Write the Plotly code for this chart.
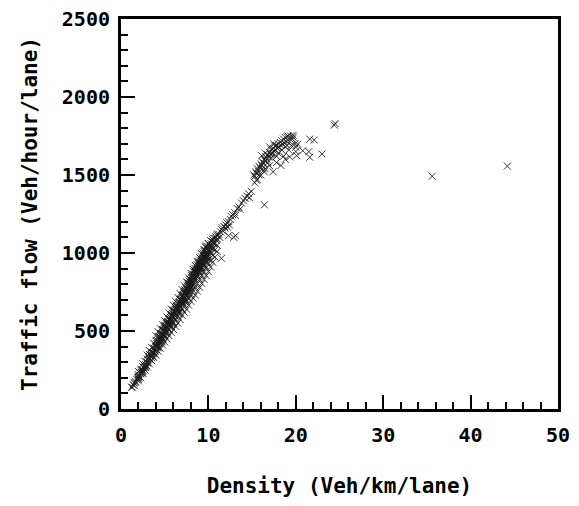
import plotly.graph_objects as go

# Density (Veh/km/lane) and Traffic flow (Veh/hour/lane)
density_low = [1.2, 1.3, 1.4, 1.5, 1.6, 1.7, 1.8, 1.9, 2.0, 2.1, 2.2, 2.3, 2.4, 2.5, 2.6, 2.7, 2.8, 2.9, 3.0, 1.5, 2.0, 2.4, 2.8,
               3.1, 3.2, 3.3, 3.4, 3.5, 3.5, 3.6, 3.7, 3.8, 3.9, 4.0, 4.0, 4.1, 4.2, 4.2, 4.3, 4.4, 4.4, 4.5, 4.6, 4.6, 4.7, 4.8, 4.8, 4.9, 5.0, 5.0,
               4.3, 4.7, 3.8, 4.1, 4.5, 4.9, 5.0, 3.6, 4.6]
flow_low = [139, 140, 155, 150, 170, 175, 190, 200, 210, 205, 230, 235, 250, 240, 265, 270, 285, 280, 300, 165, 190, 230, 265,
            310, 330, 320, 345, 350, 330, 360, 355, 380, 370, 400, 380, 395, 420, 400, 415, 440, 420, 430, 455, 440, 460, 475, 450, 480, 500, 470,
            390, 430, 360, 420, 460, 500, 520, 340, 470]

density_mid = [5.1, 5.1, 5.2, 5.2, 5.3, 5.3, 5.4, 5.4, 5.5, 5.5, 5.6, 5.6, 5.7, 5.7, 5.8, 5.8, 5.9, 5.9, 6.0, 6.0, 6.1, 6.1, 6.2, 6.2,
               6.3, 6.3, 6.4, 6.4, 6.5, 6.5, 6.6, 6.6, 6.7, 6.7, 6.8, 6.8, 6.9, 6.9, 7.0, 7.0, 5.5, 6.0, 6.5, 7.0, 5.8, 6.3, 6.8, 5.3, 6.6,
               7.1, 7.1, 7.1, 7.2, 7.2, 7.2, 7.3, 7.3, 7.3, 7.4, 7.4, 7.4, 7.5, 7.5, 7.5, 7.6, 7.6, 7.6, 7.7, 7.7, 7.7, 7.8, 7.8, 7.8,
               7.9, 7.9, 7.9, 8.0, 8.0, 8.0, 8.1, 8.1, 8.1, 8.2, 8.2, 8.2, 8.3, 8.3, 8.3, 8.4, 8.4, 8.4, 8.5, 8.5, 8.5, 8.6, 8.6, 8.6,
               8.7, 8.7, 8.7, 8.8, 8.8, 8.8, 8.9, 8.9, 8.9, 9.0, 9.0, 9.0, 7.3, 7.6, 8.0, 8.4, 8.8, 9.0]
flow_mid = [510, 485, 530, 500, 520, 545, 540, 510, 555, 530, 545, 570, 560, 585, 570, 600, 590, 560, 610, 580, 600, 625, 620, 595,
            640, 610, 630, 655, 650, 620, 670, 640, 660, 685, 680, 650, 700, 670, 690, 715, 575, 635, 675, 665, 545, 665, 705, 560, 610,
            700, 730, 675, 720, 745, 690, 740, 710, 765, 730, 755, 700, 750, 775, 720, 760, 790, 735, 780, 745, 805, 790, 760, 820,
            800, 770, 830, 810, 780, 845, 825, 795, 855, 840, 810, 865, 850, 820, 880, 860, 835, 890, 875, 845, 900, 885, 855, 915,
            895, 870, 925, 905, 880, 935, 915, 890, 945, 925, 900, 955, 690, 810, 755, 800, 850, 870]

# wider spread of the dense band (free-flow branch)
density_band = [2.0, 2.0, 2.0, 2.0, 2.25, 2.25, 2.25, 2.5, 2.5, 2.5, 2.5, 2.75, 2.75, 2.75,
                3.0, 3.0, 3.0, 3.0, 3.25, 3.25, 3.25, 3.25, 3.5, 3.5, 3.5, 3.5, 3.75, 3.75, 3.75, 3.75,
                4.0, 4.0, 4.0, 4.0, 4.0, 4.25, 4.25, 4.25, 4.25, 4.25, 4.5, 4.5, 4.5, 4.5, 4.5, 4.75, 4.75, 4.75, 4.75, 4.75,
                5.0, 5.0, 5.0, 5.0, 5.0, 5.25, 5.25, 5.25, 5.25, 5.25, 5.5, 5.5, 5.5, 5.5, 5.5, 5.75, 5.75, 5.75, 5.75, 5.75,
                6.0, 6.0, 6.0, 6.0, 6.0, 6.25, 6.25, 6.25, 6.25, 6.25, 6.5, 6.5, 6.5, 6.5, 6.5, 6.75, 6.75, 6.75, 6.75, 6.75,
                7.0, 7.0, 7.0, 7.0, 7.0, 7.25, 7.25, 7.25, 7.25, 7.25, 7.5, 7.5, 7.5, 7.5, 7.5, 7.75, 7.75, 7.75, 7.75, 7.75,
                8.0, 8.0, 8.0, 8.0, 8.0, 8.25, 8.25, 8.25, 8.25, 8.25, 8.5, 8.5, 8.5, 8.5, 8.5, 8.75, 8.75, 8.75, 8.75, 8.75,
                9.0, 9.0, 9.0, 9.0, 9.0, 9.25, 9.25, 9.25, 9.25, 9.25, 9.5, 9.5, 9.5, 9.5, 9.5, 9.75, 9.75, 9.75, 9.75, 9.75,
                10.0, 10.0, 10.0, 10.0, 10.0, 10.25, 10.25, 10.25, 10.25, 10.25, 10.5, 10.5, 10.5, 10.5, 10.75, 10.75, 10.75, 10.75,
                11.0, 11.0, 11.0, 11.0]
flow_band = [180, 200, 220, 240, 200, 225, 250, 230, 250, 270, 290, 250, 275, 305,
             270, 295, 320, 345, 290, 320, 350, 375, 310, 340, 365, 395, 330, 360, 390, 420,
             345, 380, 410, 440, 470, 370, 405, 435, 465, 495, 390, 425, 455, 485, 515, 410, 445, 480, 510, 540,
             430, 465, 500, 535, 565, 450, 490, 525, 555, 590, 470, 510, 545, 580, 615, 490, 530, 565, 605, 640,
             510, 550, 590, 625, 665, 530, 575, 610, 650, 690, 550, 595, 635, 675, 715, 575, 620, 660, 700, 740,
             600, 640, 685, 725, 765, 620, 665, 705, 750, 790, 640, 690, 730, 775, 815, 665, 710, 755, 800, 840,
             690, 735, 780, 825, 870, 710, 760, 805, 850, 895, 730, 780, 830, 875, 920, 755, 805, 855, 900, 945,
             780, 830, 880, 925, 970, 805, 855, 905, 950, 995, 830, 880, 925, 975, 1020, 855, 905, 950, 995, 1040,
             880, 930, 975, 1020, 1060, 910, 955, 1000, 1045, 1080, 940, 985, 1030, 1070, 975, 1020, 1060, 1095,
             1010, 1050, 1090, 1120]

density_high = [9.1, 9.1, 9.1, 9.2, 9.2, 9.2, 9.3, 9.3, 9.3, 9.4, 9.4, 9.4, 9.5, 9.5, 9.5, 9.6, 9.6, 9.6, 9.7, 9.7, 9.7, 9.8, 9.8, 9.8,
                9.9, 9.9, 10.0, 10.0, 10.0, 10.1, 10.1, 10.2, 10.2, 10.3, 10.3, 10.4, 10.4, 10.5, 10.6, 10.6, 10.8, 10.9, 11.0,
                9.5, 10.0, 10.5, 9.2, 9.8,
                11.2, 11.4, 11.5, 11.3, 11.6, 11.8, 11.9, 12.0, 12.1, 12.3, 12.2, 12.5, 12.6, 12.8, 13.0, 13.1, 13.3, 13.5, 13.6, 13.8,
                14.0, 14.2, 14.4, 14.6, 14.9, 14.7, 11.5, 13.1, 12.4, 11.7, 12.9, 12.3]
flow_high = [935, 905, 965, 945, 915, 975, 955, 925, 990, 965, 935, 1000, 975, 945, 1010, 985, 955, 1020, 995, 965, 1035, 1005, 975, 1045,
             1015, 985, 1025, 995, 1060, 1040, 1005, 1050, 1015, 1060, 1030, 1075, 1040, 1085, 1095, 1060, 1105, 1080, 1110,
             920, 960, 1030, 890, 940,
             1120, 1135, 1150, 1100, 1160, 1170, 1160, 1180, 1195, 1200, 1165, 1215, 1235, 1245, 1260, 1240, 1285, 1295, 1280, 1320,
             1335, 1350, 1365, 1380, 1395, 1355, 966, 1111, 1180, 1140, 1100, 1111]

density_cong = [15.2, 15.3, 15.4, 15.5, 15.6, 15.7, 15.8, 15.9, 16.0, 16.1, 16.2, 16.3, 16.4, 16.5, 16.6, 16.7, 16.8, 16.9, 17.0, 17.1,
                17.2, 17.3, 17.4, 17.5, 17.6, 17.7, 17.8, 17.9, 18.0, 18.1, 18.2, 18.3, 18.4, 18.5, 18.6, 18.7, 18.8, 18.9, 19.0,
                19.2, 19.4, 19.6, 19.7, 19.9, 20.2, 16.8, 17.2, 17.5, 18.0, 18.4, 18.8, 19.2, 17.0, 16.5, 18.6, 19.0, 17.8, 16.2,
                15.8, 20.0, 19.5, 15.3, 15.6, 16.0, 17.4, 18.3, 19.3, 17.0, 16.4, 18.8, 17.8, 15.5, 16.1, 17.2, 18.0, 19.1, 19.7,
                16.5, 20.0,
                21.6, 22.1, 21.6, 23.0, 21.5, 24.4, 24.5, 20.8, 20.1, 16.4, 35.6, 44.2]
flow_cong = [1500, 1490, 1520, 1510, 1540, 1525, 1555, 1545, 1570, 1560, 1585, 1575, 1600, 1590, 1615, 1600, 1630, 1615, 1645, 1630,
             1660, 1640, 1670, 1655, 1685, 1660, 1690, 1670, 1700, 1680, 1710, 1690, 1720, 1700, 1730, 1705, 1740, 1715, 1745,
             1720, 1750, 1730, 1755, 1700, 1698, 1580, 1610, 1700, 1640, 1660, 1680, 1660, 1680, 1640, 1620, 1690, 1620, 1540,
             1500, 1650, 1690, 1450, 1470, 1500, 1521, 1561, 1616, 1560, 1520, 1600, 1580, 1467, 1624, 1635, 1679, 1750, 1742,
             1540, 1679,
             1730, 1724, 1614, 1635, 1650, 1820, 1830, 1656, 1624, 1309, 1492, 1557]

density = density_low + density_mid + density_band + density_high + density_cong
flow = flow_low + flow_mid + flow_band + flow_high + flow_cong

x_ticks = [0, 10, 20, 30, 40, 50]
y_ticks = [0, 500, 1000, 1500, 2000, 2500]

font_family = "DejaVu Sans Mono"
tick_font = dict(family=font_family, size=20, color="black", weight="bold")
title_font = dict(family=font_family, size=21, color="black", weight="bold")

fig = go.Figure()
fig.add_trace(go.Scatter(
    x=density, y=flow, mode="markers",
    marker=dict(symbol="x-thin-open", size=7, color="rgba(25,25,25,0.85)",
                line=dict(width=1, color="rgba(25,25,25,0.85)")),
    showlegend=False, hoverinfo="skip",
))

axis_common = dict(
    showline=True, linecolor="black", linewidth=3, mirror=True,
    showgrid=False, zeroline=False, automargin=False,
    ticks="inside", ticklen=14, tickwidth=2, tickcolor="black",
    tickfont=tick_font, ticklabeloverflow="allow",
)

fig.update_xaxes(
    range=[0, 50], tickvals=x_ticks, ticktext=[str(v) for v in x_ticks],
    minor=dict(dtick=2, ticks="inside", ticklen=7, tickwidth=2, tickcolor="black"),
    title=dict(text="Density (Veh/km/lane)", font=title_font, standoff=36),
    ticklabelstandoff=6,
    **axis_common,
)
fig.update_yaxes(
    range=[0, 2500], tickvals=y_ticks, ticktext=[str(v) for v in y_ticks],
    minor=dict(dtick=100, ticks="inside", ticklen=7, tickwidth=2, tickcolor="black"),
    title=dict(text="Traffic flow (Veh/hour/lane)", font=title_font, standoff=19),
    ticklabelstandoff=4,
    **axis_common,
)

# the page body adds an 8 px margin all round, so the figure is sized to fit the window
fig.update_layout(
    width=571, height=490,
    margin=dict(l=113, r=21, t=11, b=89),
    plot_bgcolor="white", paper_bgcolor="white",
)

fig.write_html("out.html")
